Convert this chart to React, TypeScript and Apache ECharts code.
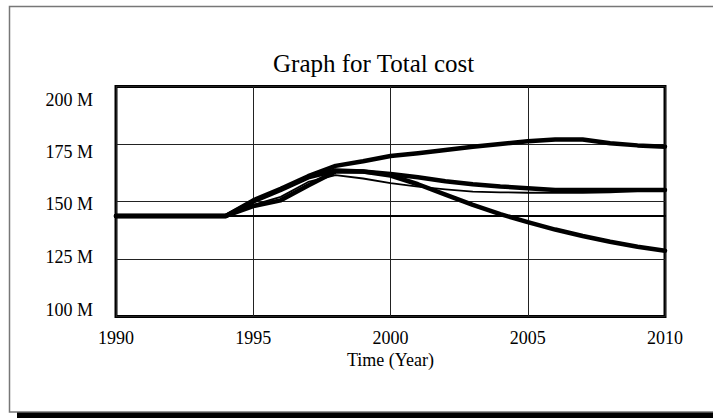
import React, { useEffect, useRef } from "react";
import * as echarts from "echarts";

const years = [1990, 1991, 1992, 1993, 1994, 1995, 1996, 1997, 1998, 1999, 2000, 2001, 2002, 2003, 2004, 2005, 2006, 2007, 2008, 2009, 2010];

// Values in millions
const runA = [143.7, 143.7, 143.7, 143.7, 143.7, 150.5, 155.5, 161, 165.5, 167.5, 169.8, 171, 172.4, 173.8, 175, 176.2, 177, 177, 175.3, 174.4, 173.8];
const runB = [143.7, 143.7, 143.7, 143.7, 143.7, 150, 155, 160.5, 163.5, 163, 162, 160.5, 158.8, 157.5, 156.5, 155.8, 155, 155, 155, 155, 155];
const runC = [143.7, 143.7, 143.7, 143.7, 143.7, 148.5, 152, 158.5, 161.5, 160, 158, 156.5, 155.3, 154.3, 154, 153.8, 153.8, 153.8, 154, 154.5, 154.8];
const runD = [143.7, 143.7, 143.7, 143.7, 143.7, 148, 150.5, 157, 163, 163, 161.3, 157.5, 153, 148.5, 144.5, 141, 137.8, 135, 132.5, 130.3, 128.6];
const runBase = [143.7, 143.7, 143.7, 143.7, 143.7, 143.7, 143.7, 143.7, 143.7, 143.7, 143.7, 143.7, 143.7, 143.7, 143.7, 143.7, 143.7, 143.7, 143.7, 143.7, 143.7];

const xTicks = [1990, 1995, 2000, 2005, 2010];
const yTicks = [100, 125, 150, 175, 200];

const FONT = "'Liberation Serif', 'Times New Roman', serif";

const pairs = (vals: number[]) => years.map((y, i) => [y, vals[i]]);

export default function App() {
  const ref = useRef<HTMLDivElement>(null);
  useEffect(() => {
    if (!ref.current) return;
    const chart = echarts.init(ref.current, null, { renderer: "svg" });
    const lineSeries = (name: string, vals: number[], width: number) => ({
      name,
      type: "line",
      data: pairs(vals),
      showSymbol: false,
      symbol: "none",
      lineStyle: { color: "#000", width, cap: "round", join: "round" },
      itemStyle: { color: "#000" },
    });
    chart.setOption({
      animation: false,
      backgroundColor: "#fff",
      title: {
        text: "Graph for Total cost",
        left: 273,
        top: 51,
        padding: 0,
        textStyle: { fontFamily: FONT, fontSize: 25, fontWeight: "normal", color: "#000", lineHeight: 25 },
      },
      graphic: [
        {
          type: "rect",
          shape: { x: 9.5, y: 6.5, width: 720, height: 405.5 },
          style: { fill: "none", stroke: "#777", lineWidth: 1.5 },
          silent: true,
        },
        {
          type: "rect",
          shape: { x: 17, y: 412.5, width: 700, height: 6 },
          style: { fill: "#000" },
          silent: true,
        },
      ],
      grid: {
        left: 116,
        right: 48,
        top: 86.5,
        bottom: 101.5,
        show: true,
        borderColor: "#000",
        borderWidth: 3,
        backgroundColor: "transparent",
      },
      xAxis: {
        type: "value",
        min: xTicks[0],
        max: xTicks[xTicks.length - 1],
        interval: 5,
        axisLine: { show: false },
        axisTick: { show: false },
        splitLine: { show: true, lineStyle: { color: "#222", width: 1 } },
        axisLabel: {
          margin: 12,
          fontFamily: FONT,
          fontSize: 18,
          color: "#000",
          lineHeight: 18,
          formatter: (v: number) => String(v),
        },
        name: "Time (Year)",
        nameLocation: "middle",
        nameGap: 34.5,
        nameTextStyle: { fontFamily: FONT, fontSize: 18, color: "#000", lineHeight: 18 },
      },
      yAxis: {
        type: "value",
        min: yTicks[0],
        max: yTicks[yTicks.length - 1],
        interval: 25,
        axisLine: { show: false },
        axisTick: { show: false },
        splitLine: { show: true, lineStyle: { color: "#222", width: 1 } },
        axisLabel: {
          margin: 23,
          fontFamily: FONT,
          fontSize: 18,
          color: "#000",
          formatter: (v: number) => `{t${v}|${v} M}`,
          rich: {
            t200: { fontFamily: FONT, fontSize: 18, color: "#000", padding: [27, 0, 0, 0] },
            t175: { fontFamily: FONT, fontSize: 18, color: "#000", padding: [16, 0, 0, 0] },
            t150: { fontFamily: FONT, fontSize: 18, color: "#000", padding: [5, 0, 0, 0] },
            t125: { fontFamily: FONT, fontSize: 18, color: "#000", padding: [0, 0, 4, 0] },
            t100: { fontFamily: FONT, fontSize: 18, color: "#000", padding: [0, 0, 13, 0] },
          },
        },
      },
      series: [
        lineSeries("Base", runBase, 2),
        lineSeries("Run C", runC, 1.8),
        lineSeries("Run B", runB, 4.5),
        lineSeries("Run D", runD, 4.5),
        lineSeries("Run A", runA, 4.5),
      ],
    });
    return () => chart.dispose();
  }, []);
  return (
    <div
      ref={ref}
      style={{ position: "fixed", left: 0, top: 0, width: 713, height: 418, background: "#fff" }}
    />
  );
}
